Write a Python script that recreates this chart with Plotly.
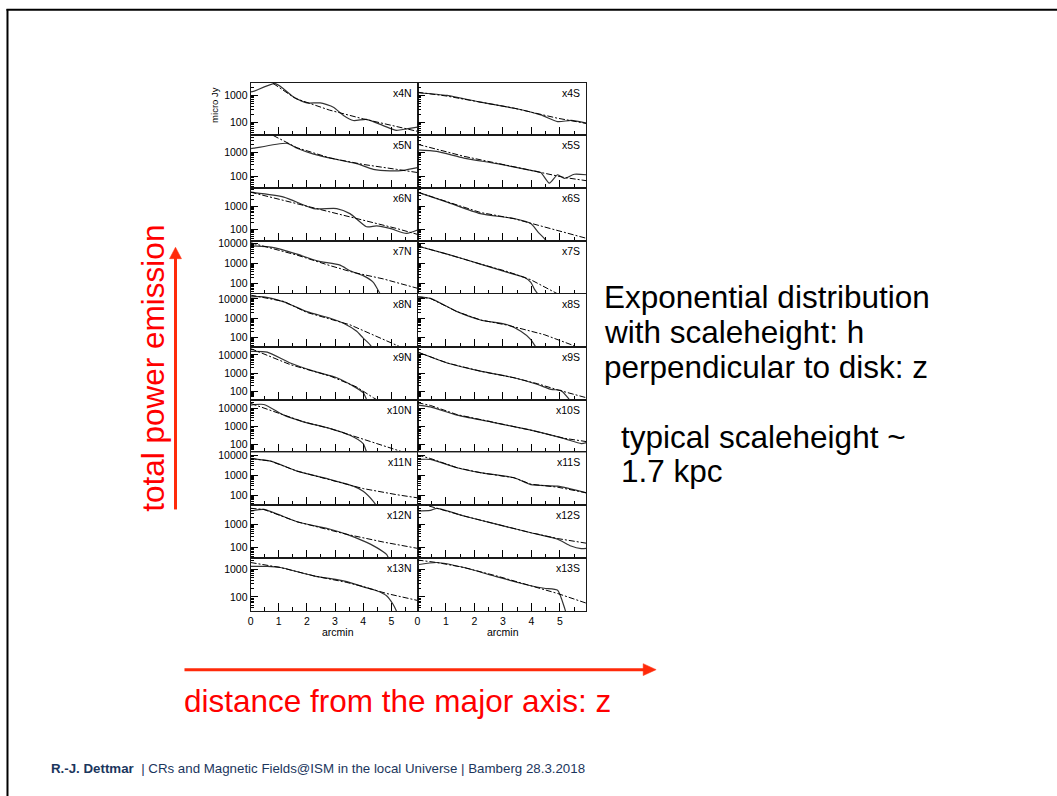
import plotly.graph_objects as go

# ---------------------------------------------------------------
# Vertical radio-continuum profiles (z in arcmin, flux in micro Jy)
# obs = measured profile, fit = exponential model
# ---------------------------------------------------------------
x4N_z = [0.0, 0.1, 0.88, 1.53, 2.0, 2.47, 2.94, 3.3, 3.65, 4.12, 4.71, 5.18, 5.54, 5.93]
x4N_obs = [1350, 1410, 2750, 870, 525, 525, 363, 178, 115, 126, 74, 49, 56, 65]
x4N_fit_z = [0.8, 1.6, 2.8, 4.0, 5.93]
x4N_fit = [2820, 760, 282, 132, 45]

x4S_z = [0.0, 1.04, 2.2, 3.4, 4.33, 4.92, 5.4, 5.93]
x4S_obs = [1260, 1000, 562, 331, 186, 105, 115, 91]
x4S_fit_z = [0.0, 1.0, 2.2, 3.4, 4.9, 5.93]
x4S_fit = [1320, 955, 562, 331, 141, 89]

x5N_z = [0.0, 0.12, 1.3, 1.65, 2.24, 3.06, 3.77, 4.36, 4.95, 5.42, 5.93]
x5N_obs = [1380, 1445, 2290, 1445, 832, 501, 339, 200, 174, 182, 234]
x5N_fit_z = [0.8, 1.65, 2.83, 4.0, 5.18, 5.93]
x5N_fit = [4790, 1510, 575, 316, 200, 148]

x5S_z = [0.0, 0.68, 1.63, 2.8, 3.98, 4.33, 4.63, 4.92, 5.16, 5.51, 5.93]
x5S_obs = [1230, 1070, 575, 339, 182, 148, 55, 120, 85, 126, 120]
x5S_fit_z = [0.0, 1.63, 3.98, 5.16, 5.93]
x5S_fit = [2090, 676, 182, 93, 69]

x6N_z = [0.0, 1.18, 2.24, 3.06, 3.53, 4.12, 4.48, 4.95, 5.54, 5.93]
x6N_obs = [3980, 2450, 776, 776, 468, 126, 138, 107, 65, 91]
x6N_fit_z = [0.0, 1.65, 2.83, 4.0, 5.18, 5.93]
x6N_fit = [3980, 1260, 550, 245, 107, 59]

x6S_z = [0.0, 1.04, 2.21, 3.39, 3.98, 4.22, 4.45, 4.6]
x6S_obs = [3980, 1480, 468, 288, 174, 78, 40, 25]
x6S_fit_z = [0.0, 1.04, 2.21, 3.39, 3.98, 5.93]
x6S_fit = [3980, 1480, 525, 282, 178, 40]

x7N_z = [0.0, 0.82, 1.65, 2.36, 3.18, 3.53, 4.0, 4.36, 4.6, 4.7]
x7N_obs = [7410, 6030, 2880, 1350, 832, 437, 251, 117, 32, 20]
x7N_fit_z = [0.0, 1.65, 2.83, 3.65, 4.71, 5.93]
x7N_fit = [10470, 2570, 776, 363, 174, 60]

x7S_z = [0.0, 1.04, 2.21, 3.16, 3.75, 3.98, 4.1, 4.22, 4.3]
x7S_obs = [7240, 2880, 933, 363, 209, 117, 56, 32, 20]
x7S_fit_z = [0.0, 1.04, 2.21, 3.16, 3.98, 4.92]
x7S_fit = [7240, 2880, 933, 398, 158, 32]

x8N_z = [0.0, 0.47, 1.18, 2.0, 2.83, 3.3, 3.77, 4.0, 4.24, 4.35]
x8N_obs = [12900, 12900, 7080, 2190, 1000, 550, 209, 93, 43, 25]
x8N_fit_z = [0.0, 1.18, 2.0, 2.83, 3.53, 4.36, 5.18, 5.5]
x8N_fit = [15850, 7410, 2000, 891, 457, 135, 40, 25]

x8S_z = [0.0, 0.45, 1.39, 2.21, 3.16, 3.63, 3.98, 4.1, 4.2]
x8S_obs = [12900, 10700, 2190, 813, 457, 209, 78, 43, 25]
x8S_fit_z = [0.0, 0.45, 1.39, 2.21, 3.16, 4.45, 5.39, 5.6]
x8S_fit = [12900, 10700, 2190, 813, 437, 141, 43, 32]

x9N_z = [0.0, 0.59, 1.41, 2.24, 3.06, 3.65, 4.0, 4.12, 4.2]
x9N_obs = [15850, 14450, 3630, 1290, 562, 195, 85, 36, 20]
x9N_fit_z = [0.0, 1.41, 2.83, 3.77, 4.36, 4.6]
x9N_fit = [22390, 2950, 692, 174, 45, 28]

x9S_z = [0.0, 1.04, 2.21, 3.39, 4.22, 4.69, 5.04, 5.28, 5.4]
x9S_obs = [14450, 3630, 1290, 562, 240, 129, 112, 45, 25]
x9S_fit_z = [0.0, 1.04, 2.21, 3.39, 4.22, 5.0, 5.93]
x9S_fit = [14450, 3630, 1290, 562, 263, 112, 45]

x10N_z = [0.0, 0.47, 1.18, 1.88, 2.83, 3.53, 4.0, 4.12, 4.2]
x10N_obs = [14790, 15850, 4070, 1740, 741, 316, 110, 37, 20]
x10N_fit_z = [0.0, 1.18, 1.88, 2.83, 3.53, 4.24, 5.42, 5.6]
x10N_fit = [18200, 4370, 1740, 741, 331, 135, 37, 32]

x10S_z = [0.0, 0.45, 1.39, 2.57, 3.98, 5.16, 5.75, 5.93]
x10S_obs = [14790, 11750, 4070, 1740, 603, 204, 110, 123]
x10S_fit_z = [0.0, 0.45, 1.39, 2.57, 3.98, 5.16, 5.93]
x10S_fit = [19950, 14130, 4370, 1740, 603, 214, 141]

x11N_z = [0.0, 0.71, 1.65, 2.83, 3.65, 4.0, 4.36, 4.53, 4.6]
x11N_obs = [6760, 5010, 1585, 603, 282, 158, 50, 23, 16]
x11N_fit_z = [0.0, 0.71, 1.65, 2.83, 3.65, 4.0, 5.18, 5.93]
x11N_fit = [6760, 5010, 1585, 603, 282, 214, 107, 74]

x11S_z = [0.0, 0.45, 1.39, 2.21, 3.39, 3.98, 4.92, 5.93]
x11S_obs = [6030, 6030, 2340, 1320, 741, 339, 282, 132]
x11S_fit_z = [0.0, 0.45, 1.39, 2.21, 3.39, 3.98, 4.92, 5.93]
x11S_fit = [10000, 6760, 2340, 1320, 741, 355, 251, 132]

x12N_z = [0.0, 0.47, 1.65, 2.83, 3.42, 4.0, 4.48, 4.83, 4.89, 4.95]
x12N_obs = [3720, 4370, 1290, 617, 372, 195, 100, 51, 37, 25]
x12N_fit_z = [0.0, 0.47, 1.65, 3.42, 4.71, 5.93]
x12N_fit = [4900, 4370, 1290, 372, 174, 93]

x12S_z = [0.0, 0.45, 0.68, 1.63, 2.8, 3.98, 4.92, 5.39, 5.75, 5.93]
x12S_obs = [3720, 3980, 4900, 2290, 1000, 437, 229, 117, 91, 93]
x12S_fit_z = [0.0, 0.68, 1.63, 2.8, 3.98, 4.92, 5.93]
x12S_fit = [8510, 4900, 2290, 1000, 437, 245, 155]

x13N_z = [0.0, 0.59, 1.06, 2.24, 3.42, 4.0, 4.48, 4.83, 5.06, 5.18, 5.25]
x13N_obs = [1260, 1260, 1150, 575, 355, 229, 166, 110, 54, 31, 20]
x13N_fit_z = [0.0, 1.06, 2.24, 3.42, 4.0, 4.83, 5.93]
x13N_fit = [1740, 1150, 575, 331, 234, 132, 74]

x13S_z = [0.0, 0.68, 1.63, 2.8, 3.98, 4.45, 4.92, 5.04, 5.16, 5.25]
x13S_obs = [1445, 1740, 1150, 525, 251, 204, 174, 95, 41, 20]
x13S_fit_z = [0.0, 0.68, 1.63, 2.8, 3.98, 4.92, 5.93]
x13S_fit = [2140, 1740, 1150, 562, 251, 132, 59]

STRIPS = ["x4", "x5", "x6", "x7", "x8", "x9", "x10", "x11", "x12", "x13"]
SIDES = ["N", "S"]

# log10 y-range of each strip
STRIP_YRANGE = [
    [1.50, 3.48], [1.53, 3.68], [1.48, 3.77], [1.50, 4.10], [1.52, 4.26],
    [1.55, 4.45], [1.55, 4.47], [1.50, 4.13], [1.55, 3.82], [1.49, 3.40],
]

Z_TICKS = [0, 1, 2, 3, 4, 5]
Z_MINOR = [0.5, 1.5, 2.5, 3.5, 4.5, 5.5]
FLUX_TICKS = [100, 1000, 10000]
FLUX_TICKTEXT = ["100", "1000", "10000"]
FLUX_MINOR = [m * 10 ** d for d in range(1, 5) for m in range(2, 10)]

PROFILES = {
    name: (globals()[name + "_z"], globals()[name + "_obs"],
           globals()[name + "_fit_z"], globals()[name + "_fit"])
    for name in [s + side for s in STRIPS for side in SIDES]
}

# ---------------------------------------------------------------
# page geometry (pixels of the 1057 x 796 page)
# ---------------------------------------------------------------
W, H = 1057, 796
X_LEFT, X_MID, X_RIGHT = 248.3, 415.7, 585.0
Y_TOP, Y_BOTTOM = 79.0, 610.0
ROW_H = (Y_BOTTOM - Y_TOP) / len(STRIPS)

FONT = "Liberation Sans, Arial, Helvetica, sans-serif"
RED = "#FF0000"
ARROW_RED = "#FF2A0A"


def px(x):
    return x / W


def py(y):
    return 1 - y / H


fig = go.Figure()
layout = {}
annotations = []

k = 0
for r, strip in enumerate(STRIPS):
    y_top = Y_TOP + r * ROW_H
    y_bot = y_top + ROW_H
    for c, side in enumerate(SIDES):
        k += 1
        sfx = "" if k == 1 else str(k)
        name = strip + side
        z, obs, fz, fit = PROFILES[name]

        fig.add_trace(go.Scatter(
            x=z, y=obs, mode="lines",
            line=dict(color="#333333", width=1.2, shape="spline", smoothing=0.6),
            xaxis="x" + sfx, yaxis="y" + sfx, showlegend=False, hoverinfo="skip"))
        fig.add_trace(go.Scatter(
            x=fz, y=fit, mode="lines",
            line=dict(color="#000000", width=1.0, dash="6px,2px,2px,2px"),
            xaxis="x" + sfx, yaxis="y" + sfx, showlegend=False, hoverinfo="skip"))

        x0, x1 = (X_LEFT, X_MID) if c == 0 else (X_MID, X_RIGHT)
        bottom_row = r == len(STRIPS) - 1

        layout["xaxis" + sfx] = dict(
            domain=[px(x0), px(x1)], anchor="y" + sfx, range=[0, 5.93],
            tickmode="array", tickvals=Z_TICKS, ticktext=[str(t) for t in Z_TICKS],
            ticks="inside", ticklen=8, tickwidth=1, tickcolor="#000",
            minor=dict(tickmode="array", tickvals=Z_MINOR, ticks="inside",
                       ticklen=4, tickwidth=1, tickcolor="#000", showgrid=False),
            showticklabels=bottom_row,
            tickfont=dict(family=FONT, size=10.5, color="#000"),
            showline=True, linecolor="#1a1a1a", linewidth=1, mirror=True,
            showgrid=False, zeroline=False, fixedrange=True,
        )
        layout["yaxis" + sfx] = dict(
            domain=[py(y_bot), py(y_top)], anchor="x" + sfx, type="log",
            range=STRIP_YRANGE[r],
            tickmode="array", tickvals=FLUX_TICKS, ticktext=FLUX_TICKTEXT,
            ticks="inside", ticklen=7, tickwidth=1, tickcolor="#000",
            minor=dict(tickmode="array", tickvals=FLUX_MINOR, ticks="inside",
                       ticklen=3.5, tickwidth=1, tickcolor="#000", showgrid=False),
            showticklabels=(c == 0),
            tickfont=dict(family=FONT, size=10.5, color="#000"),
            showline=True, linecolor="#1a1a1a", linewidth=1, mirror=True,
            showgrid=False, zeroline=False, fixedrange=True,
        )

        # strip label in the upper right corner
        annotations.append(dict(
            text=name, xref="paper", yref="paper",
            x=px(x1 - 4), y=py(y_top + 10), xanchor="right", yanchor="middle",
            showarrow=False, font=dict(family=FONT, size=10.5, color="#000")))

# axis titles of the panel grid
annotations.append(dict(
    text="micro Jy", xref="paper", yref="paper", x=px(212), y=py(101),
    textangle=-90, xanchor="center", yanchor="middle", showarrow=False,
    font=dict(family=FONT, size=9.5, color="#000")))
for cx in [(X_LEFT + X_MID) / 2 + 4, (X_MID + X_RIGHT) / 2 + 1]:
    annotations.append(dict(
        text="arcmin", xref="paper", yref="paper", x=px(cx), y=py(631.5),
        xanchor="center", yanchor="middle", showarrow=False,
        font=dict(family=FONT, size=10.5, color="#000")))

# slide text on the right
BIG = 31.5
for txt, x, base in [
    ("Exponential distribution", 601, 306),
    ("with scaleheight: h", 601, 341),
    ("perpendicular to disk: z", 601, 376),
    ("typical scaleheight ~", 617.5, 446.7),
    ("1.7 kpc", 617.5, 480.7),
]:
    annotations.append(dict(
        text=txt, xref="paper", yref="paper", x=px(x), y=py(base - 0.35 * BIG),
        xanchor="left", yanchor="middle", showarrow=False,
        font=dict(family=FONT, size=BIG, color="#000")))

# red axis annotations of the slide
annotations.append(dict(
    text="total power emission", xref="paper", yref="paper",
    x=px(151), y=py(366), textangle=-90, xanchor="center", yanchor="middle",
    showarrow=False, font=dict(family=FONT, size=BIG, color=RED)))
annotations.append(dict(
    text="distance from the major axis: z", xref="paper", yref="paper",
    x=px(180), y=py(711.7 - 0.35 * BIG), xanchor="left", yanchor="middle",
    showarrow=False, font=dict(family=FONT, size=BIG, color=RED)))

# footer
annotations.append(dict(
    text="<b>R.-J. Dettmar</b>\u00a0 | CRs and Magnetic Fields@ISM in the local Universe | Bamberg 28.3.2018",
    xref="paper", yref="paper", x=px(46), y=py(768), xanchor="left", yanchor="middle",
    showarrow=False, font=dict(family=FONT, size=13.3, color="#1B365D")))

shapes = []
# slide frame (top and left edge)
shapes.append(dict(type="line", xref="paper", yref="paper",
                   x0=px(3.5), x1=px(W), y0=py(5.8), y1=py(5.8),
                   line=dict(color="#000", width=2)))
shapes.append(dict(type="line", xref="paper", yref="paper",
                   x0=px(4.5), x1=px(4.5), y0=py(5), y1=py(H),
                   line=dict(color="#000", width=2)))

# vertical arrow
shapes.append(dict(type="line", xref="paper", yref="paper",
                   x0=px(173), x1=px(173), y0=py(508), y1=py(254),
                   line=dict(color=ARROW_RED, width=3)))
shapes.append(dict(type="path", xref="paper", yref="paper",
                   path=f"M {px(167):.5f},{py(256):.5f} L {px(179):.5f},{py(256):.5f} "
                        f"L {px(173):.5f},{py(244.5):.5f} Z",
                   fillcolor=ARROW_RED, line=dict(color=ARROW_RED, width=0.5)))
# horizontal arrow
shapes.append(dict(type="line", xref="paper", yref="paper",
                   x0=px(182), x1=px(644), y0=py(669), y1=py(669),
                   line=dict(color=ARROW_RED, width=3)))
shapes.append(dict(type="path", xref="paper", yref="paper",
                   path=f"M {px(642):.5f},{py(663):.5f} L {px(642):.5f},{py(675):.5f} "
                        f"L {px(655):.5f},{py(669):.5f} Z",
                   fillcolor=ARROW_RED, line=dict(color=ARROW_RED, width=0.5)))

fig.update_layout(
    width=W, height=H,
    margin=dict(l=0, r=0, t=0, b=0),
    paper_bgcolor="#ffffff", plot_bgcolor="#ffffff",
    font=dict(family=FONT),
    showlegend=False,
    annotations=annotations,
    shapes=shapes,
    **layout,
)

fig.write_html("out.html", config={"displayModeBar": False})
